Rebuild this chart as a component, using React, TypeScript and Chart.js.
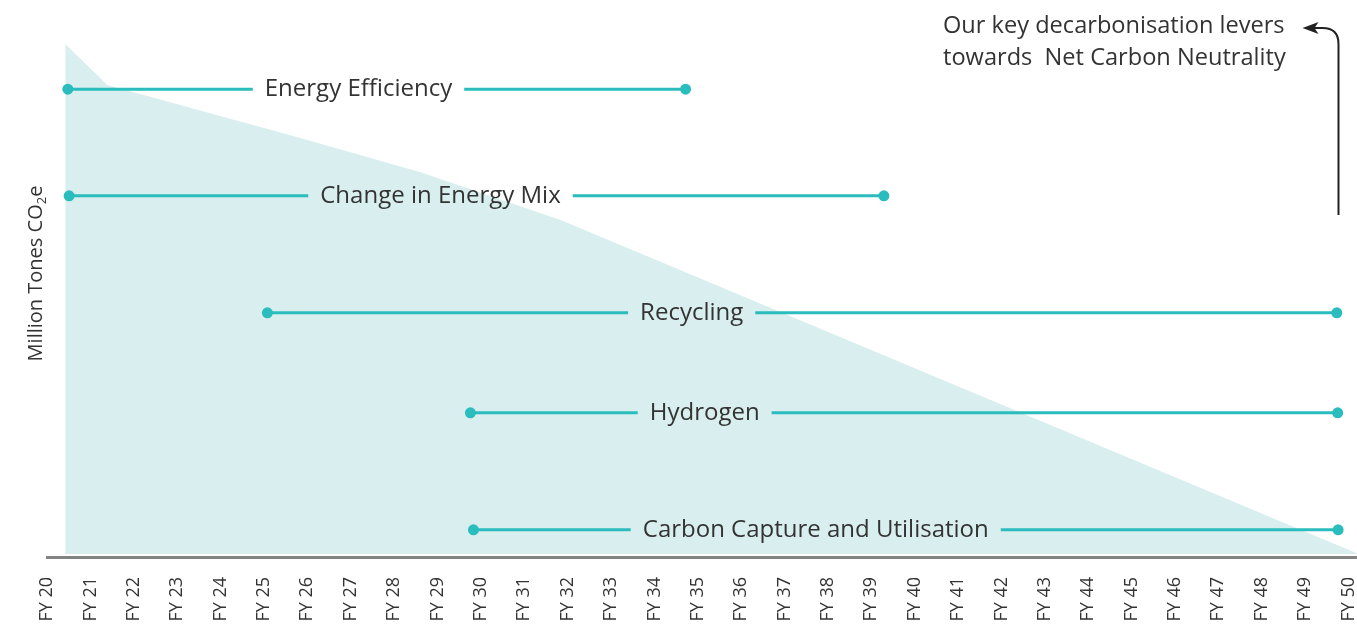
import React, { useEffect, useRef } from "react";
import { Chart, registerables } from "chart.js";

Chart.register(...registerables);

// ---- data ----
const YEARS = [20, 21, 22, 23, 24, 25, 26, 27, 28, 29, 30, 31, 32, 33, 34, 35, 36, 37, 38, 39, 40, 41, 42, 43, 44, 45, 46, 47, 48, 49, 50];
const TICK_LABELS = YEARS.map((y) => `FY ${y}`);
const X_MIN = 20;
const X_MAX = 50.23;

// emissions trajectory (index, FY20 = 100)
const AREA_X = [20.42, 21.39, 25.84, 28.61, 31.84, 50.23];
const AREA_Y = [100, 92.0, 81.7, 75.0, 65.7, 0.6];
const AREA_BASE = 0.6;

// decarbonisation levers
const LEVERS = ["Energy Efficiency", "Change in Energy Mix", "Recycling", "Hydrogen", "Carbon Capture and Utilisation"];
const LEVER_START = [20.48, 20.51, 25.08, 29.76, 29.83];
const LEVER_END = [34.72, 39.29, 49.73, 49.75, 49.76];
const LEVER_ROW = [91.2, 70.4, 47.6, 28.1, 5.3];
const LEVER_LABEL_AT = [27.18, 29.07, 34.86, 35.16, 37.72];

const Y_TITLE = ["Million Tones CO", "2", "e"];
const NOTE = ["Our key decarbonisation levers", "towards  Net Carbon Neutrality"];

const TEAL = "#2bbdbd";
const AREA_FILL = "#d9eeee";
const TEXT = "#333333";
const FONT = "'Open Sans', 'Noto Sans', sans-serif";
const LABEL_FONT = `24px ${FONT}`;
const GAP = 12;

export default function App() {
  const ref = useRef<HTMLCanvasElement | null>(null);

  useEffect(() => {
    if (!ref.current) return;

    function arrowX(chart: any) {
      return Math.round(chart.scales.x.getPixelForValue(LEVER_END[4])) + 0.5;
    }

    const leverPlugin = {
      id: "leverLabels",
      beforeDatasetDraw(chart: any, args: any) {
        const ds = chart.data.datasets[args.index];
        if (ds.leverIndex === undefined) return;
        const i = ds.leverIndex;
        const ctx = chart.ctx;
        const xs = chart.scales.x;
        const ys = chart.scales.y;
        ctx.save();
        ctx.font = LABEL_FONT;
        const w = ctx.measureText(LEVERS[i]).width;
        const cx = xs.getPixelForValue(LEVER_LABEL_AT[i]);
        const cy = ys.getPixelForValue(LEVER_ROW[i]);
        ctx.beginPath();
        ctx.rect(0, 0, chart.width, chart.height);
        ctx.rect(cx - w / 2 - GAP, cy - 15, w + GAP * 2, 30);
        ctx.clip("evenodd");
      },
      afterDatasetDraw(chart: any, args: any) {
        const ds = chart.data.datasets[args.index];
        if (ds.leverIndex === undefined) return;
        const i = ds.leverIndex;
        const ctx = chart.ctx;
        ctx.restore();
        const xs = chart.scales.x;
        const ys = chart.scales.y;
        const cx = xs.getPixelForValue(LEVER_LABEL_AT[i]);
        const cy = ys.getPixelForValue(LEVER_ROW[i]);
        ctx.save();
        ctx.font = LABEL_FONT;
        ctx.fillStyle = TEXT;
        ctx.textAlign = "center";
        ctx.textBaseline = "middle";
        ctx.fillText(LEVERS[i], cx, cy + 0.5);
        ctx.restore();
      },
      afterDraw(chart: any) {
        const ctx = chart.ctx;
        const area = chart.chartArea;
        // y-axis title
        ctx.save();
        ctx.translate(42, (area.top + area.bottom) / 2 - 27);
        ctx.rotate(-Math.PI / 2);
        ctx.fillStyle = TEXT;
        ctx.textBaseline = "alphabetic";
        const big = `20px ${FONT}`;
        const small = `13px ${FONT}`;
        ctx.font = big;
        const w0 = ctx.measureText(Y_TITLE[0]).width;
        const w2 = ctx.measureText(Y_TITLE[2]).width;
        ctx.font = small;
        const w1 = ctx.measureText(Y_TITLE[1]).width;
        let x = -(w0 + w1 + w2) / 2;
        ctx.font = big;
        ctx.textAlign = "left";
        ctx.fillText(Y_TITLE[0], x, 0);
        x += w0;
        ctx.font = small;
        ctx.fillText(Y_TITLE[1], x, 4);
        x += w1;
        ctx.font = big;
        ctx.fillText(Y_TITLE[2], x, 0);
        ctx.restore();

        // note text
        ctx.save();
        ctx.font = `23.6px ${FONT}`;
        ctx.fillStyle = TEXT;
        ctx.textAlign = "left";
        ctx.textBaseline = "alphabetic";
        ctx.fillText(NOTE[0], 943, 33);
        ctx.fillText(NOTE[1], 943, 65);
        ctx.restore();

        // arrow
        const ax = arrowX(chart);
        ctx.save();
        ctx.strokeStyle = "#222222";
        ctx.fillStyle = "#222222";
        ctx.lineWidth = 2;
        ctx.beginPath();
        ctx.moveTo(ax, 215);
        ctx.lineTo(ax, 44);
        ctx.quadraticCurveTo(ax, 28, ax - 16, 28);
        ctx.lineTo(ax - 26, 28);
        ctx.stroke();
        ctx.beginPath();
        ctx.moveTo(ax - 36, 28);
        ctx.lineTo(ax - 20, 22);
        ctx.lineTo(ax - 24, 28);
        ctx.lineTo(ax - 20, 34);
        ctx.closePath();
        ctx.fill();
        ctx.restore();
      },
    };

    const areaData = AREA_X.map((x, i) => ({ x, y: AREA_Y[i] }));
    const leverSets = LEVERS.map((name, i) => ({
      label: name,
      leverIndex: i,
      type: "line" as const,
      data: [
        { x: LEVER_START[i], y: LEVER_ROW[i] },
        { x: LEVER_END[i], y: LEVER_ROW[i] },
      ],
      borderColor: TEAL,
      borderWidth: 3,
      pointRadius: 5.5,
      pointBackgroundColor: TEAL,
      pointBorderWidth: 0,
      fill: false,
      order: 0,
      clip: false,
    }));

    const chart = new Chart(ref.current, {
      type: "line",
      data: {
        datasets: [
          {
            label: "Emissions",
            data: areaData,
            borderWidth: 0,
            borderColor: "rgba(0,0,0,0)",
            backgroundColor: AREA_FILL,
            pointRadius: 0,
            fill: { value: AREA_BASE },
            tension: 0,
            order: 10,
          } as any,
          ...(leverSets as any[]),
        ],
      },
      options: {
        animation: false,
        responsive: true,
        maintainAspectRatio: false,
        events: [],
        layout: { padding: { left: 47, top: 44, right: 0, bottom: 0 } },
        plugins: { legend: { display: false }, tooltip: { enabled: false } },
        scales: {
          x: {
            type: "linear",
            min: X_MIN,
            max: X_MAX,
            afterBuildTicks: (scale: any) => {
              scale.ticks = YEARS.map((v) => ({ value: v }));
            },
            afterFit: (scale: any) => {
              scale.height = 68;
              scale.paddingLeft = 0;
              scale.paddingRight = 0;
            },
            grid: { display: true, drawOnChartArea: false, drawTicks: false, color: "rgba(0,0,0,0)" },
            border: { display: true, color: "#838383", width: 3 },
            ticks: {
              autoSkip: false,
              minRotation: 90,
              maxRotation: 90,
              padding: 20,
              color: TEXT,
              font: { family: FONT, size: 18 },
              callback: (_v: any, i: number) => TICK_LABELS[i],
            },
          },
          y: {
            type: "linear",
            display: false,
            min: 0,
            max: 100,
          },
        },
      },
      plugins: [leverPlugin],
    } as any);

    return () => chart.destroy();
  }, []);

  return (
    <div style={{ position: "fixed", left: 0, top: 0, width: 1357, height: 625, overflow: "hidden", background: "#fff" }}>
      <div style={{ position: "relative", width: 1364, height: 625 }}>
        <canvas ref={ref} />
      </div>
    </div>
  );
}
